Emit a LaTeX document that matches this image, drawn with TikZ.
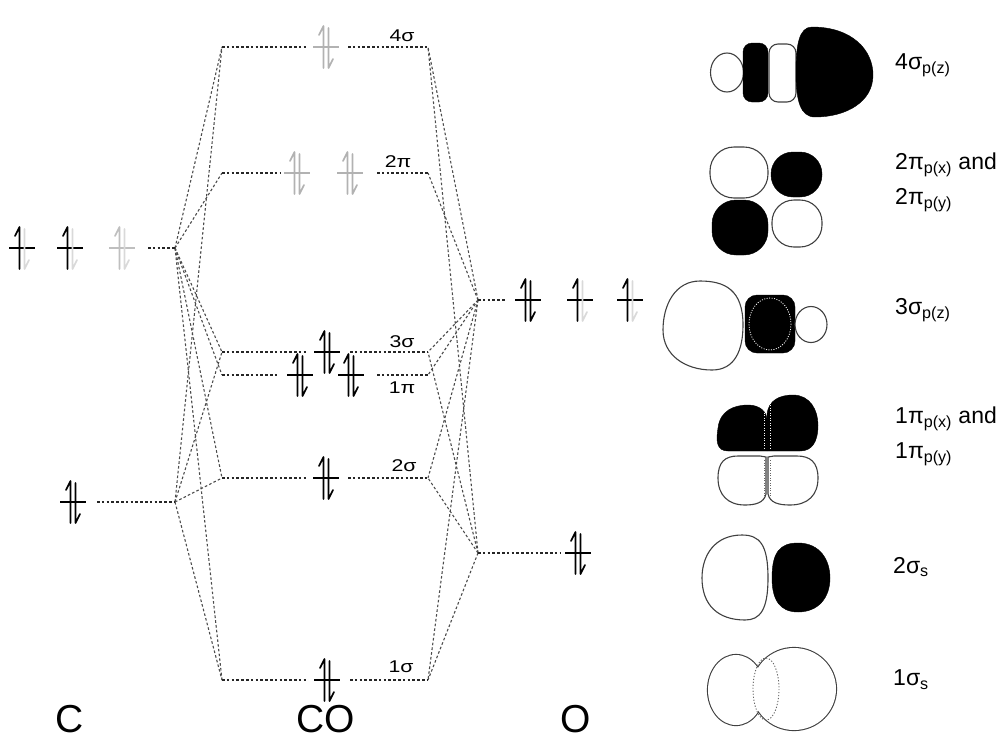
\documentclass[tikz,border=0pt]{standalone}
\usepackage{fontspec}
\setmainfont{Liberation Sans}
\newfontfamily\widesans[FakeStretch=1.25]{Liberation Sans}
\begin{document}
\begin{tikzpicture}[x=1pt,y=-1pt,
  level/.style={draw=black!85, line width=1.2pt, dash pattern=on 2.6pt off 2.2pt},
  link/.style={draw=black!70, line width=1.1pt, dash pattern=on 2.6pt off 2.2pt},
  tick/.style={line width=1.1pt},
  spin/.style={line width=1.7pt, line cap=round, line join=round},
  mo/.style={font=\widesans\fontsize{17}{20}\selectfont, inner sep=0pt},
  atom/.style={font=\fontsize{39}{45}\selectfont, inner sep=0pt, anchor=base},
  orblabel/.style={font=\fontsize{23}{27}\selectfont, inner sep=0pt, anchor=west},
  lobe/.style={draw=black!75, line width=1.1pt, fill=white},
  dark/.style={fill=black, draw=black},
  pics/epair/.style={code={
    \draw[tick,#1] (-13,0) -- (13,0);
    \draw[spin,#1] (-2.5,21) -- (-2.5,-21) -- (-7,-12);
    \draw[spin,#1] (2.5,-19) -- (2.5,21) -- (7,12);}},
  pics/epair/.default=black,
  pics/eup/.style={code={
    \draw[tick,#1] (-13,0) -- (13,0);
    \draw[spin,black!15] (2.5,-19) -- (2.5,21) -- (7,12);
    \draw[spin,#1] (-2.5,21) -- (-2.5,-21) -- (-7,-12);}},
  pics/eup/.default=black,
]
\useasboundingbox (0,0) rectangle (1006,742);

% ---------- vertices of the correlation lines ----------
\coordinate (C2p) at (175,248);
\coordinate (C2s) at (175,502);
\coordinate (O2p) at (478,300);
\coordinate (O2s) at (478,553);
\coordinate (s4L) at (222,47);  \coordinate (s4R) at (428,47);
\coordinate (p2L) at (222,173); \coordinate (p2R) at (428,173);
\coordinate (s3L) at (222,352); \coordinate (s3R) at (428,352);
\coordinate (p1L) at (222,375); \coordinate (p1R) at (428,375);
\coordinate (s2L) at (222,478); \coordinate (s2R) at (428,478);
\coordinate (s1L) at (222,680); \coordinate (s1R) at (428,680);

% ---------- correlation lines ----------
\foreach \m in {s4L,p2L,s3L,p1L,s2L,s1L} \draw[link] (C2p) -- (\m);
\foreach \m in {s4L,s3L,s2L,s1L} \draw[link] (C2s) -- (\m);
\foreach \m in {s4R,p2R,s3R,p1R,s2R,s1R} \draw[link] (O2p) -- (\m);
\foreach \m in {s4R,s3R,s2R,s1R} \draw[link] (O2s) -- (\m);

% ---------- CO levels ----------
\draw[level] (s4L) -- (306,47) (348,47) -- (s4R);
\draw[level] (p2L) -- (280,173) (377,173) -- (p2R);
\draw[level] (s3L) -- (307,352) (350,352) -- (s3R);
\draw[level] (p1L) -- (278,375) (377,375) -- (p1R);
\draw[level] (s2L) -- (306,478) (348,478) -- (s2R);
\draw[level] (s1L) -- (306,680) (350,680) -- (s1R);

\pic (e4s) at (326,47) {epair=black!30};
\pic (e2pa) at (297,173) {epair=black!30};
\pic (e2pb) at (350,173) {epair=black!30};
\pic (e3s) at (327,352) {epair};
\pic (e1pa) at (300,375) {epair};
\pic (e1pb) at (351,375) {epair};
\pic (e2s) at (326,478) {epair};
\pic (e1s) at (327,680) {epair};

\node[mo] (l4s) at (402,36) {4σ};
\node[mo] (l2p) at (398,162) {2π};
\node[mo] (l3s) at (402,342) {3σ};
\node[mo] (l1p) at (402,388) {1π};
\node[mo] (l2s) at (404,466) {2σ};
\node[mo] (l1s) at (401,667) {1σ};

% ---------- carbon ----------
\draw[level] (148,248) -- (C2p);
\pic (c1) at (22,248) {eup};
\pic (c2) at (70,248) {eup};
\pic (c3) at (122,248) {eup=black!25};
\draw[level] (97,502) -- (C2s);
\pic (c4) at (73,502) {epair};

% ---------- oxygen ----------
\draw[level] (O2p) -- (505,300);
\pic (o1) at (528,300) {epair};
\pic (o2) at (580,300) {eup};
\pic (o3) at (630,300) {eup};
\draw[level] (O2s) -- (560,553);
\pic (o4) at (578,553) {epair};

% ---------- axis labels ----------
\node[atom] (atC) at (70,732) {C};
\node[atom] (atCO) at (326,732) {CO};
\node[atom] (atO) at (576,732) {O};

% ---------- orbital sketches ----------
% 4 sigma
\draw[lobe] (727,72.5) ellipse [x radius=16.5, y radius=19.5];
\filldraw[dark, rounded corners=9] (743,43) rectangle (768,102);
\draw[lobe, rounded corners=9] (769,44) rectangle (796,102);
\filldraw[dark] (812,27) .. controls (852,27) and (873,50) .. (873,75)
  .. controls (873,102) and (846,117) .. (815,117)
  .. controls (800,117) and (796,100) .. (796,72)
  .. controls (796,45) and (799,27) .. (812,27) -- cycle;
% 2 pi
\draw[lobe, rounded corners=24] (710,147) rectangle (768,198);
\filldraw[dark, rounded corners=22] (771,152) rectangle (822,197);
\filldraw[dark, rounded corners=24] (712,200) rectangle (768,255);
\draw[lobe, rounded corners=22] (772,200) rectangle (822,247);
% 3 sigma
\draw[lobe] (743,325) .. controls (743,290) and (725,281) .. (700,281)
  .. controls (675,281) and (663,305) .. (663,330)
  .. controls (663,355) and (685,370) .. (712,370)
  .. controls (735,370) and (743,350) .. (743,325) -- cycle;
\filldraw[dark, rounded corners=12] (745,295) rectangle (795,353);
\draw[white, line width=0.8pt, dash pattern=on 1pt off 1.5pt] (770,324) ellipse [x radius=21, y radius=26];
\draw[lobe] (811,324.5) ellipse [x radius=16, y radius=18];
% 1 pi
\filldraw[dark] (767,451) -- (728,451) .. controls (716,451) and (716,440) .. (718,428)
  .. controls (720,410) and (735,405) .. (748,405) .. controls (760,405) and (767,412) .. (767,420) -- cycle;
\filldraw[dark] (767,451) -- (767,415) .. controls (768,400) and (780,395) .. (793,395)
  .. controls (810,395) and (818,410) .. (818,425) .. controls (818,442) and (812,451) .. (800,451) -- cycle;
\draw[lobe] (766,457) -- (766,494) .. controls (764,503) and (755,505) .. (745,505)
  .. controls (728,505) and (718,495) .. (718,478) .. controls (718,462) and (725,456) .. (738,456) -- (760,456) -- cycle;
\draw[lobe] (768,457) -- (768,494) .. controls (770,503) and (779,505) .. (790,505)
  .. controls (808,505) and (818,495) .. (818,478) .. controls (818,462) and (810,456) .. (797,456) -- (774,456) -- cycle;
\draw[white, line width=0.8pt, dash pattern=on 1pt off 1.5pt] (764,405) -- (764,450) (770,400) -- (770,450);
\draw[black!60, line width=0.8pt, dash pattern=on 1pt off 1.5pt] (764,460) -- (764,500) (770,460) -- (770,500);
% 2 sigma
\draw[lobe] (768,578) .. controls (768,545) and (760,535) .. (742,535)
  .. controls (715,535) and (702,555) .. (702,578)
  .. controls (702,605) and (718,620) .. (745,620)
  .. controls (760,620) and (768,610) .. (768,578) -- cycle;
\filldraw[dark] (772,578) .. controls (772,552) and (780,543) .. (798,543)
  .. controls (820,543) and (830,560) .. (830,578)
  .. controls (830,598) and (818,612) .. (798,612)
  .. controls (780,612) and (772,600) .. (772,578) -- cycle;
% 1 sigma
\draw[lobe, line width=2.2pt] (736,690) ellipse [x radius=28, y radius=35];
\draw[lobe, line width=2.2pt] (794,689) ellipse [x radius=42, y radius=41];
\fill[white] (736,690) ellipse [x radius=28, y radius=35];
\fill[white] (794,689) ellipse [x radius=42, y radius=41];
\draw[black!60, line width=0.9pt, dash pattern=on 1.2pt off 1.8pt] (766,689) ellipse [x radius=13, y radius=31];

% ---------- orbital labels ----------
\node[orblabel] (t4s) at (895,65) {4σ\textsubscript{p(z)}};
\node[orblabel] (t2pa) at (895,165) {2π\textsubscript{p(x)} and};
\node[orblabel] (t2pb) at (895,200) {2π\textsubscript{p(y)}};
\node[orblabel] (t3s) at (895,310) {3σ\textsubscript{p(z)}};
\node[orblabel] (t1pa) at (895,419) {1π\textsubscript{p(x)} and};
\node[orblabel] (t1pb) at (895,454) {1π\textsubscript{p(y)}};
\node[orblabel] (t2s) at (893,567) {2σ\textsubscript{s}};
\node[orblabel] (t1s) at (893,680) {1σ\textsubscript{s}};
\end{tikzpicture}
\end{document}
